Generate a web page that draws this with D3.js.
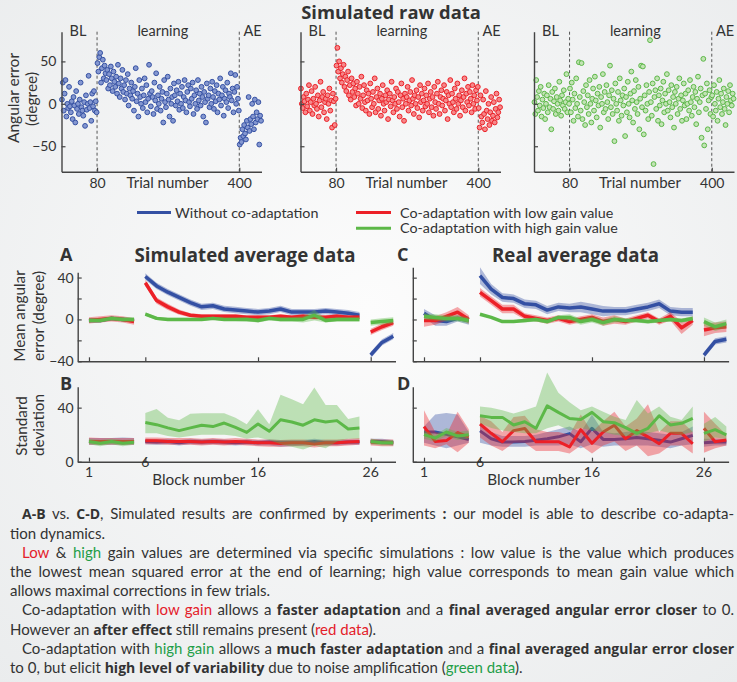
<!DOCTYPE html>
<html>
<head>
<meta charset="utf-8">
<script src="https://cdn.jsdelivr.net/npm/d3@7"></script>
<style>
  body { margin: 0; }
  svg { display: block; font-family: Lato, "Open Sans", sans-serif; }
</style>
</head>
<body>
<svg id="main" width="737" height="682"></svg>
<script>
// ---- raw simulated trials (one value every second trial: 1, 3, 5 ... 449) ----
const rawBlue = [
  5, 25, -8, 12, 28, -15, 0, -5, 20, -3, -10, 3, -18, 8, -2, -22, 15, -6, 0, -12,
  5, 25, -4, -8, -14, 2, -26, 10, -7, 0, 33, -5, 2, -20, 12, -3, 15, -8, 3, -10,
  48, 38, 55, 60, 25, 42, 52, 30, 45, 36, 28, 40, 18, 35, 22, 44, 30, 15, 38, 26,
  20, 32, 12, 46, 24, 8, 30, 18, 40, 14, 22, 5, 28, 12, 35, -2, 18, 10, 25, 6,
  15, -8, 20, 42, 3, 12, -15, 28, 8, 0, 18, -5, 10, 30, 2, 22, -10, 6, 46, 12,
  -3, 15, 8, -12, 25, 4, 36, -6, 10, 0, 20, -8, 6, 14, -22, 28, 2, -4, 12, 32,
  5, -15, 18, 0, 8, -20, 24, 10, -2, 16, 3, 26, -7, 12, 0, 20, -5, 8, 28, 4,
  -10, 14, 22, 2, -3, 18, 6, 25, -12, 10, 0, 16, -6, 28, 4, 12, -2, 20, 8, -15,
  14, 2, -22, 24, 6, 10, -4, 18, 0, 26, 8, -6, 15, 3, 22, -10, 12, 5, 30, -2,
  10, 20, -14, 6, 16, 2, 25, -5, 12, 8, 36, 4, 18, -10, 14, 34, 0, 20, 6, -8,
  -48, -40, -45, -30, -38, -25, -35, -42, -20, -28, 8, -32, -18, -24, 0, -15, -30, 5, -22, -10,
  -18, 2, -48, -14, -20
];
const rawRed = [
  18, 0, -5, 8, 3, -10, 12, -3, 5, 22, -8, 2, 15, -12, 6, -2, 20, 0, -6, 10,
  -15, 4, 26, -4, 8, 14, -10, 2, 6, -18, 10, 0, 18, -8, 4, -28, 12, 3, -25, 6,
  45, 66, 38, 50, 30, 42, 25, 35, 46, 20, 32, 15, 28, 38, 10, 22, 5, 30, 14, 24,
  8, 18, -2, 26, 12, 0, 20, 6, 32, -5, 10, 22, 2, -8, 16, 4, 12, -12, 24, 6,
  -4, 14, 0, 30, -10, 8, 18, -6, 4, 12, -14, 6, 22, 0, -8, 10, 2, 16, -18, 5,
  12, -3, 26, 4, -10, 8, 0, 18, -6, 14, 2, -15, 10, 24, -4, 6, -20, 12, 0, 8,
  20, -8, 4, 14, -2, 28, 6, -12, 10, 0, 16, -5, 8, -16, 22, 2, 12, -8, 4, 18,
  -3, 10, 0, 24, -10, 6, 14, -4, 8, -14, 20, 2, -6, 12, 26, 0, -12, 8, 16, -2,
  6, 22, -8, 4, 14, -18, 10, 0, 28, -4, 12, 2, -10, 18, 6, -6, 24, 0, 10, -14,
  4, 16, -4, 8, 30, -8, 12, 2, 20, -2, 14, 6, -10, 22, 0, 10, -6, 16, 4, 20,
  -5, -28, 10, -15, -22, 5, -12, -30, 15, -8, -18, 0, -25, -10, 8, -20, -14, 2, -22, -6,
  12, -16, -10, 5, -4
];
const rawGreen = [
  2, -12, 28, 8, -8, 15, -2, 20, -15, 5, -5, 12, -18, 0, 10, -10, 22, -4, 6, -30,
  14, -6, 3, 18, -12, 8, 0, -8, 26, 4, -14, 10, -2, 16, -6, 2, 35, -10, 6, 0,
  18, -10, 25, 5, -20, 12, -5, 30, 0, -15, 49, 8, -8, 48, -18, 15, 2, -25, 22, -4,
  10, -12, 28, 0, -22, 6, 18, -8, 32, 4, -16, 12, -2, 20, -28, 8, 0, 35, -10, 14,
  -6, 22, 2, -18, 10, 45, -4, 16, -12, 6, -44, 24, 0, -8, 14, -20, 30, 4, -14, 10,
  -2, 18, -38, 8, -10, 26, 0, -16, 12, 38, 4, -22, 15, -6, 28, 2, -12, 20, -30, 6,
  45, -4, 44, -36, 10, -8, 22, 0, -18, 14, 75, 2, -14, 24, -71, 8, 16, -6, 30, -20,
  10, -2, 18, -24, 4, 26, -10, 12, 0, 35, -8, 16, 2, -16, 22, -4, 8, -28, 14, 0,
  20, -12, 6, 30, -6, 10, -20, 4, 24, -2, 12, -18, 0, 16, -8, 28, 2, -14, 8, 20,
  -4, 14, -24, 6, 32, -10, 2, 18, -40, 10, 53, -49, 12, -6, 24, -30, 4, 16, -12, 8,
  10, -15, 22, 0, -8, 14, -20, 6, 28, -4, 12, -12, 2, 18, -6, -25, 8, 0, 15, -10,
  22, 4, -2, 12, 6
];
const rawTrials = d3.range(1, 450, 2);
const rawTicksX = [80, 400];
const rawTicksY = [50, 0, -50];
const phaseLabels = [['BL', 37], ['learning', 228], ['AE', 430]];

// ---- block averages ----
const blocks = [1, 2, 3, 4, 5, 6, 7, 8, 9, 10, 11, 12, 13, 14, 15, 16, 17, 18, 19, 20, 21, 22, 23, 24, 25, 26, 27, 28];
const phases = [[1, 5], [6, 25], [26, 28]];
const blockTicks = [1, 6, 16, 26];

// A: simulated mean angular error (mean and half band)
const aBlue = [-1, -1, 1, 0, -1, 41, 32, 26, 21, 16, 12, 13, 10, 9, 8, 7, 8, 10, 7, 7, 7, 8, 7, 6, 4, -34, -22, -16];
const aBlueErr = [2, 2, 2, 2, 2, 3, 3, 3, 3, 3, 3, 3, 3, 3, 3, 3, 3, 3, 3, 3, 3, 3, 3, 3, 3, 3, 3, 3];
const aRed = [-1, 0, 1, 0, -2, 35, 18, 12, 7, 4, 3, 3, 3, 3, 2, 2, 2, 3, 2, 3, 2, 2, 3, 2, 2, -12, -7, -3];
const aRedErr = [3, 3, 3, 3, 3, 3, 3, 3, 2.5, 2, 2, 2, 2, 2, 2, 2, 2, 2, 2, 2, 2, 2, 2, 2, 2, 3, 3, 3];
const aGreen = [-1, -1, 1, 0, 0, 5, 1, 0, 0, 0, 0, 1, 0, 0, 0, -1, 1, 0, 0, 0, 4, -1, 0, 0, 0, -3, -2, -1];
const aGreenErr = [2, 2, 2, 2, 2, 1.5, 1.5, 1.5, 1.5, 1.5, 1.5, 1.5, 1.5, 1.5, 2, 2, 2, 2, 2, 3, 5, 2, 2, 2, 2, 3, 3, 3];

// C: real mean angular error
const cBlue = [6, -1, -2, 1, -1, 42, 29, 21, 20, 15, 14, 9, 12, 11, 12, 10, 8, 8, 8, 10, 12, 15, 8, 7, 7, -34, -21, -19];
const cBlueErr = [4, 5, 4, 3, 4, 8, 5, 4, 4, 4, 4, 4, 4, 4, 5, 5, 5, 4, 4, 4, 4, 4, 4, 4, 4, 3, 3, 3];
const cRed = [-1, -1, 3, 7, 0, 26, 18, 10, 10, 3, 1, -1, 1, -2, 0, 2, -2, 0, -2, 1, 4, -2, 3, -8, -1, -10, -8, -7];
const cRedErr = [6, 4, 4, 5, 4, 4, 4, 4, 4, 3, 3, 3, 3, 3, 3, 3, 4, 4, 3, 3, 3, 3, 4, 6, 4, 6, 5, 5];
const cGreen = [3, 2, 1, 1, -1, 5, 2, -2, -2, -1, 0, -2, 2, 2, -2, 0, -3, 0, -1, -1, -2, -1, 0, -1, 1, -2, -7, -4];
const cGreenErr = [3, 3, 3, 3, 3, 1, 1, 1, 1, 2, 2, 2, 2, 3, 3, 3, 3, 3, 2, 2, 2, 2, 2, 2, 2, 4, 4, 4];

// B: simulated standard deviation (line, lower and upper band)
const bBlue = [15, 15, 15, 15, 15, 15, 14.5, 15, 14, 15, 14.5, 15, 14.5, 14, 14.5, 14, 14.5, 14, 14, 14, 15, 14, 14, 14.5, 14.5, 15, 15, 14];
const bBlueLo = [12.5, 12.5, 12.5, 12.5, 12.5, 13, 12.5, 13, 12, 13, 12.5, 13, 12.5, 12, 12.5, 12, 12, 11, 11.5, 12, 12.5, 12, 12, 12.5, 12.5, 13, 13, 12];
const bBlueHi = [17.5, 17.5, 17.5, 18, 17.5, 17, 16.5, 17, 16, 17, 16.5, 17, 16.5, 16, 16.5, 16, 16.5, 16, 16, 16, 17, 16, 16, 16.5, 16.5, 17, 17, 16];
const bRed = [15, 15, 15, 15, 15, 15.5, 15.5, 15, 15, 15, 14.5, 15, 14.5, 15, 14.5, 14, 14, 13.5, 14, 14, 13, 14, 14, 14.5, 15, 14.5, 14, 14];
const bRedLo = [12.5, 12.5, 12.5, 12.5, 12.5, 13, 13, 12.5, 12.5, 12.5, 12, 12.5, 12, 12.5, 12, 11.5, 11, 11, 11.5, 11.5, 10.5, 11.5, 11.5, 12, 12.5, 12, 11.5, 11.5];
const bRedHi = [18, 17.5, 17.5, 17.5, 17.5, 18, 18, 17.5, 17.5, 17.5, 17, 17.5, 17, 17.5, 17, 16.5, 16.5, 16, 16.5, 16.5, 15.5, 16.5, 16.5, 17, 17.5, 17, 16.5, 16.5];
const bGreen = [15, 13.6, 15, 13.6, 14.4, 29, 27.4, 25, 23, 25, 27, 26, 28.6, 25.4, 21.7, 27.9, 22.5, 31.1, 29.4, 27, 31, 29.4, 30.4, 24.2, 25, 15, 14, 14];
const bGreenLo = [13, 11.5, 13, 11.5, 12.5, 21, 21, 19, 18, 19, 20, 20, 20, 19, 17, 18, 16, 13, 11, 9, 12, 10, 15, 17, 17, 13, 12, 12];
const bGreenHi = [17, 16, 17, 16, 16.5, 36, 39, 32.5, 30.6, 35.4, 35.8, 35.8, 35.8, 32.6, 27.7, 38.8, 27.7, 49.5, 46.3, 42.6, 55, 42, 42, 31.6, 33.4, 17, 16, 16];

// D: real standard deviation
const dBlue = [22, 22, 20.3, 18.4, 16.4, 22.8, 17, 14.5, 14.5, 15, 15.8, 17, 18.4, 20.8, 14.8, 24.7, 16.5, 16.5, 17, 17.9, 17, 15.8, 14.5, 17, 19.5, 14, 14.5, 14.5];
const dBlueLo = [14, 12, 10, 12, 14, 14, 12, 11, 11, 11, 12, 12, 12, 13, 10, 13, 11, 12, 12, 12, 12, 11, 10, 12, 13, 11, 12, 12];
const dBlueHi = [26, 35, 36, 35, 22, 28, 22, 19, 19, 19, 20, 22, 24, 26, 22, 35, 22, 21, 22, 23, 22, 21, 20, 22, 26, 17, 17, 17];
const dRed = [26, 15, 15.6, 21.5, 18.4, 27.9, 21, 14.8, 23, 24.5, 14.8, 14.8, 14.8, 11, 23.7, 13.6, 22, 27, 17, 23, 18.4, 13.3, 21, 21, 13.3, 24.7, 14.8, 16];
const dRedLo = [12, 10, 13, 7, 14, 18, 12, 8, 14, 14, 8, 8, 8, 6, 12, 6, 12, 15, 8, 12, 4, 6, 12, 12, 6, 6.7, 10, 12];
const dRedHi = [38, 22, 20, 37, 24, 34, 30, 22, 33, 34, 24, 22, 22, 20, 35, 22, 30, 37, 26, 32, 42.6, 22, 30, 30, 22, 37, 28, 20];
const dGreen = [20, 17.5, 22, 19, 20, 34, 32.8, 32.8, 27.2, 29.6, 24.7, 41.3, 36.5, 32, 31.3, 36.5, 29.6, 28.9, 25.2, 21, 24.7, 34, 27.2, 28.4, 32, 21, 23.7, 19.8];
const dGreenLo = [17, 15, 19, 16, 17, 28.4, 25, 23, 22, 21, 21, 24.7, 27, 23, 25, 23, 22, 20, 19, 19, 21, 23, 21, 20, 22, 15, 18, 17];
const dGreenHi = [23, 20, 25, 22, 23, 40.8, 40, 38, 35.6, 38, 40.8, 66, 51, 44, 38, 40.8, 37, 33.3, 30.9, 45.7, 35.6, 40.8, 33.3, 30.9, 40.8, 28, 33, 26];

const colors = { blue: '#3450a3', red: '#ec2027', green: '#5cb848' };
const markerFill = { blue: '#8497d0', red: '#f6888a', green: '#c2e3b4' };
const textColor = '#333';
const axisColor = '#444';
const boldFont = '"Open Sans", Lato, sans-serif';

const svg = d3.select('#main');
const W = 737, H = 682;

// background
const grad = svg.append('defs').append('radialGradient')
  .attr('id', 'bg').attr('cx', '50%').attr('cy', '45%').attr('r', '75%');
grad.append('stop').attr('offset', '0%').attr('stop-color', '#fcfcfc');
grad.append('stop').attr('offset', '100%').attr('stop-color', '#eaeced');
svg.append('rect').attr('width', W).attr('height', H).attr('fill', 'url(#bg)');

const fmtMinus = d => d < 0 ? '\u2212' + Math.abs(d) : String(d);

function styleAxis(g) {
  g.select('.domain').attr('stroke', axisColor).attr('stroke-width', 1.4);
  g.selectAll('.tick line').attr('stroke', axisColor).attr('stroke-width', 1.2);
  g.selectAll('.tick text').attr('fill', textColor).style('font-size', '14px').style('font-family', 'Lato, sans-serif');
}

// ---------- raw data panels ----------
svg.append('text')
  .attr('x', 391).attr('y', 18.5)
  .attr('text-anchor', 'middle')
  .style('font-family', boldFont)
  .style('font-size', '18.4px').style('font-weight', 'bold').attr('fill', textColor)
  .text('Simulated raw data');

const rawTop = 31.7, rawBottom = 171.7;
const rawPanels = [
  { x0: 61.5, data: rawBlue, key: 'blue', labels: true },
  { x0: 300.5, data: rawRed, key: 'red', labels: false },
  { x0: 534, data: rawGreen, key: 'green', labels: false }
];

rawPanels.forEach(p => {
  const x = d3.scaleLinear().domain([0, 450]).range([p.x0, p.x0 + 200]);
  const y = d3.scaleLinear().domain([-80, 85]).range([rawBottom, rawTop]);
  const g = svg.append('g');

  g.selectAll('line.phase').data(rawTicksX).join('line')
    .attr('class', 'phase')
    .attr('x1', d => x(d)).attr('x2', d => x(d))
    .attr('y1', rawTop).attr('y2', rawBottom)
    .attr('stroke', '#555').attr('stroke-width', 1).attr('stroke-dasharray', '3,2.5');

  g.selectAll('circle').data(p.data).join('circle')
    .attr('cx', (d, i) => x(rawTrials[i]))
    .attr('cy', d => y(d))
    .attr('r', 2.4)
    .attr('fill', markerFill[p.key])
    .attr('stroke', colors[p.key])
    .attr('stroke-width', 1);

  g.append('g')
    .attr('transform', `translate(0,${rawBottom})`)
    .call(d3.axisBottom(x).tickValues(rawTicksX).tickSize(-4).tickSizeOuter(0).tickPadding(6))
    .call(styleAxis);

  g.append('g')
    .attr('transform', `translate(${p.x0},0)`)
    .call(d3.axisLeft(y).tickValues(rawTicksY).tickSize(-4).tickSizeOuter(0).tickPadding(5)
      .tickFormat(d => p.labels ? fmtMinus(d) : ''))
    .call(styleAxis);

  g.selectAll('text.phase').data(phaseLabels).join('text')
    .attr('class', 'phase')
    .attr('x', d => x(d[1])).attr('y', 36)
    .attr('text-anchor', 'middle')
    .style('font-size', '14.5px').attr('fill', textColor)
    .text(d => d[0]);

  g.append('text')
    .attr('x', p.x0 + 106).attr('y', 188)
    .attr('text-anchor', 'middle')
    .style('font-size', '15px').attr('fill', textColor)
    .text('Trial number');
});

svg.append('text')
  .attr('transform', 'translate(19,98) rotate(-90)')
  .attr('text-anchor', 'middle')
  .style('font-size', '15.5px').attr('fill', textColor)
  .text('Angular error');
svg.append('text')
  .attr('transform', 'translate(37,99) rotate(-90)')
  .attr('text-anchor', 'middle')
  .style('font-size', '15.5px').attr('fill', textColor)
  .text('(degree)');

// ---------- legend ----------
const legend = [
  { key: 'blue', label: 'Without co-adaptation', x1: 137, x2: 171, tx: 175, y: 212.5 },
  { key: 'red', label: 'Co-adaptation with low gain value', x1: 356, x2: 391, tx: 400, y: 212.5 },
  { key: 'green', label: 'Co-adaptation with high gain value', x1: 356, x2: 391, tx: 400, y: 228.3 }
];
const lg = svg.append('g');
lg.selectAll('line').data(legend).join('line')
  .attr('x1', d => d.x1).attr('x2', d => d.x2)
  .attr('y1', d => d.y).attr('y2', d => d.y)
  .attr('stroke', d => colors[d.key]).attr('stroke-width', 3);
lg.selectAll('text').data(legend).join('text')
  .attr('x', d => d.tx).attr('y', d => d.y + 5)
  .style('font-size', '14.3px').attr('fill', textColor)
  .text(d => d.label);

// ---------- block average panels ----------
function spreadLo(mean, err) { return mean.map((m, i) => m - err[i]); }
function spreadHi(mean, err) { return mean.map((m, i) => m + err[i]); }

function drawSeries(g, x, y, mean, lo, hi, color, lw) {
  phases.forEach(([a, b]) => {
    const rows = blocks
      .map((bl, i) => ({ bl, m: mean[i], lo: lo[i], hi: hi[i] }))
      .filter(r => r.bl >= a && r.bl <= b);
    g.append('path').datum(rows)
      .attr('d', d3.area().x(r => x(r.bl)).y0(r => y(r.lo)).y1(r => y(r.hi)))
      .attr('fill', color).attr('fill-opacity', 0.38);
  });
  phases.forEach(([a, b]) => {
    const rows = blocks
      .map((bl, i) => ({ bl, m: mean[i] }))
      .filter(r => r.bl >= a && r.bl <= b);
    g.append('path').datum(rows)
      .attr('d', d3.line().x(r => x(r.bl)).y(r => y(r.m)))
      .attr('fill', 'none').attr('stroke', color)
      .attr('stroke-width', lw).attr('stroke-linejoin', 'round');
  });
}

const avgPanels = [
  { x0: 77.7, w: 317.8, top: 272.3, bottom: 361.3, dom: [-40, 45], ticks: [-40, -20, 0, 20, 40], labels: [-40, 0, 40], xLabels: false,
    series: [
      ['blue', aBlue, spreadLo(aBlue, aBlueErr), spreadHi(aBlue, aBlueErr)],
      ['red', aRed, spreadLo(aRed, aRedErr), spreadHi(aRed, aRedErr)],
      ['green', aGreen, spreadLo(aGreen, aGreenErr), spreadHi(aGreen, aGreenErr)]
    ], lw: 3.5 },
  { x0: 412.8, w: 315.8, top: 267.2, bottom: 361.3, dom: [-40, 50], ticks: [-40, -20, 0, 20, 40], labels: [], xLabels: false,
    series: [
      ['blue', cBlue, spreadLo(cBlue, cBlueErr), spreadHi(cBlue, cBlueErr)],
      ['red', cRed, spreadLo(cRed, cRedErr), spreadHi(cRed, cRedErr)],
      ['green', cGreen, spreadLo(cGreen, cGreenErr), spreadHi(cGreen, cGreenErr)]
    ], lw: 3.5 },
  { x0: 77.7, w: 317.8, top: 386.7, bottom: 461.7, dom: [0, 55.5], ticks: [0, 40], labels: [0, 40], xLabels: true,
    series: [
      ['blue', bBlue, bBlueLo, bBlueHi],
      ['red', bRed, bRedLo, bRedHi],
      ['green', bGreen, bGreenLo, bGreenHi]
    ], lw: 3 },
  { x0: 412.8, w: 315.8, top: 386.7, bottom: 461.7, dom: [0, 55.5], ticks: [0, 40], labels: [], xLabels: true,
    series: [
      ['blue', dBlue, dBlueLo, dBlueHi],
      ['red', dRed, dRedLo, dRedHi],
      ['green', dGreen, dGreenLo, dGreenHi]
    ], lw: 3 }
];

avgPanels.forEach(p => {
  const x = d3.scaleLinear().domain([0, 28.2]).range([p.x0, p.x0 + p.w]);
  const y = d3.scaleLinear().domain(p.dom).range([p.bottom, p.top]);
  const g = svg.append('g');

  p.series.forEach(s => drawSeries(g, x, y, s[1], s[2], s[3], colors[s[0]], p.lw));

  g.append('g')
    .attr('transform', `translate(0,${p.bottom})`)
    .call(d3.axisBottom(x).tickValues(blockTicks).tickSize(-4).tickSizeOuter(0).tickFormat(''))
    .call(styleAxis);

  g.append('g')
    .attr('transform', `translate(${p.x0},0)`)
    .call(d3.axisLeft(y).tickValues(p.ticks).tickSize(-4).tickSizeOuter(0).tickPadding(4)
      .tickFormat(d => p.labels.includes(d) ? fmtMinus(d) : ''))
    .call(styleAxis);

  if (p.xLabels) {
    g.selectAll('text.blk').data(blockTicks).join('text')
      .attr('class', 'blk')
      .attr('x', d => x(d)).attr('y', d => d === 6 ? 467 : 477)
      .attr('text-anchor', 'middle')
      .style('font-size', '14px').attr('fill', textColor)
      .text(d => d);
    g.append('text')
      .attr('x', p.x0 + 121).attr('y', 485)
      .attr('text-anchor', 'middle')
      .style('font-size', '15.3px').attr('fill', textColor)
      .text('Block number');
  }
});

// panel titles and letters
const heads = [
  { t: 'A', x: 60, y: 261, size: 18, anchor: 'start' },
  { t: 'B', x: 60, y: 390, size: 18, anchor: 'start' },
  { t: 'C', x: 397, y: 261, size: 18, anchor: 'start' },
  { t: 'D', x: 397, y: 390, size: 18, anchor: 'start' },
  { t: 'Simulated average data', x: 245, y: 261.5, size: 18.7, anchor: 'middle' },
  { t: 'Real average data', x: 575.5, y: 261.5, size: 18.7, anchor: 'middle' }
];
svg.selectAll('text.head').data(heads).join('text')
  .attr('class', 'head')
  .attr('x', d => d.x).attr('y', d => d.y)
  .attr('text-anchor', d => d.anchor)
  .style('font-family', boldFont)
  .style('font-size', d => d.size + 'px').style('font-weight', 'bold')
  .attr('fill', textColor)
  .text(d => d.t);

const yTitles = [
  { t: 'Mean angular', x: 25, y: 316 },
  { t: 'error (degree)', x: 44, y: 316 },
  { t: 'Standard', x: 26.5, y: 426 },
  { t: 'deviation', x: 44, y: 425 }
];
svg.selectAll('text.ytitle').data(yTitles).join('text')
  .attr('class', 'ytitle')
  .attr('transform', d => `translate(${d.x},${d.y}) rotate(-90)`)
  .attr('text-anchor', 'middle')
  .style('font-size', '15.3px').attr('fill', textColor)
  .text(d => d.t);

// ---------- notes (justified lines run to the right edge) ----------
const red = '#e4202a', green = '#1f9e48';
const notes = [
  { x: 22, just: true, parts: [['A-B', 'b'], [' vs. '], ['C-D', 'b'], [', Simulated results are confirmed by experiments '], [':', 'b'], [' our model is able to describe co-adapta-']] },
  { x: 10, parts: [['tion dynamics.']] },
  { x: 22, just: true, parts: [['Low', red], [' & '], ['high', green], [' gain values are determined via specific simulations : low value is the value which produces']] },
  { x: 10, just: true, parts: [['the lowest mean squared error at the end of learning; high value corresponds to mean gain value which']] },
  { x: 10, parts: [['allows maximal corrections in few trials.']] },
  { x: 22, just: true, parts: [['Co-adaptation with '], ['low gain', red], [' allows a '], ['faster adaptation', 'b'], [' and a '], ['final averaged angular error closer', 'b'], [' to 0.']] },
  { x: 10, parts: [['However an '], ['after effect', 'b'], [' still remains present ('], ['red data', red], [').']] },
  { x: 22, just: true, parts: [['Co-adaptation with '], ['high gain', green], [' allows a '], ['much faster adaptation', 'b'], [' and a '], ['final averaged angular error closer', 'b']] },
  { x: 10, parts: [['to 0, but elicit '], ['high level of variability', 'b'], [' due to noise amplification ('], ['green data', green], [').']] }
];
const noteRight = 734;
const noteG = svg.append('g');
notes.forEach((line, i) => {
  const t = noteG.append('text')
    .attr('x', line.x).attr('y', 519.3 + i * 19.2)
    .style('font-size', '15px').attr('fill', textColor);
  line.parts.forEach(pt => {
    const ts = t.append('tspan').text(pt[0]);
    if (pt[1] === 'b') ts.style('font-weight', 'bold').style('font-family', boldFont).style('font-size', '14px');
    else if (pt[1]) ts.attr('fill', pt[1]);
  });
  if (line.just) {
    const natural = t.node().getComputedTextLength();
    const spaces = line.parts.map(pt => pt[0]).join('').split(' ').length - 1;
    const extra = (noteRight - line.x - natural) / spaces;
    t.style('word-spacing', extra + 'px');
  }
});
</script>
</body>
</html>
